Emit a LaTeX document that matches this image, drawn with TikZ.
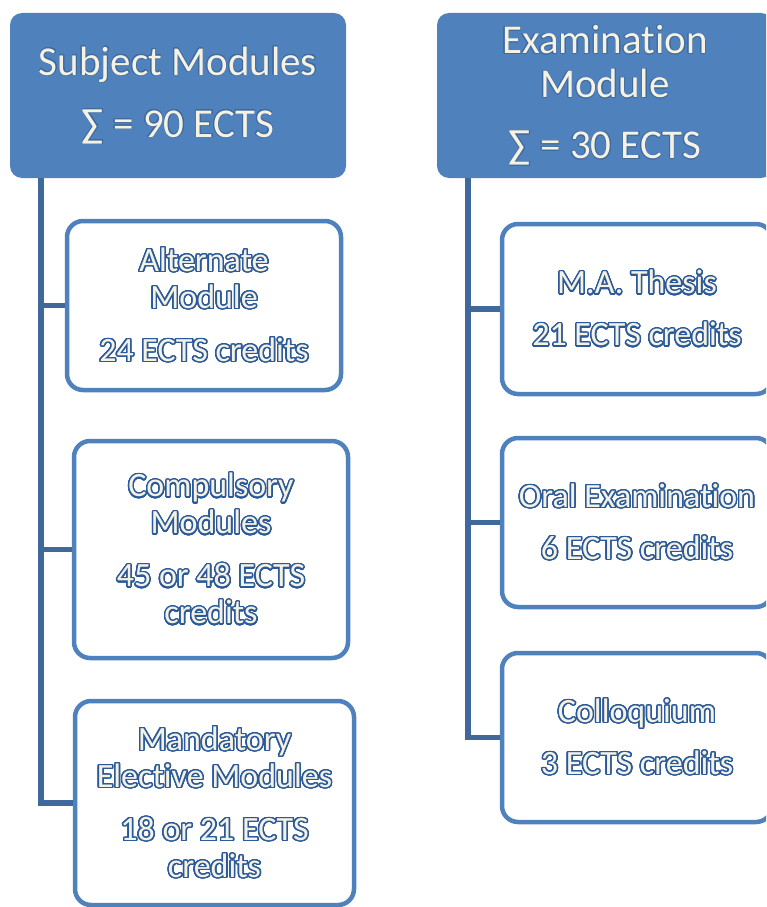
\documentclass[tikz,border=0pt]{standalone}
\usepackage{fontspec}
\setmainfont{Carlito}[Ligatures=NoCommon]
\usepackage{contour}
\contourlength{1.4pt}
\contournumber{32}
\definecolor{hdrfill}{HTML}{4F81BD}
\definecolor{boxline}{HTML}{4F81BD}
\definecolor{connline}{HTML}{41689A}
\definecolor{txtcream}{HTML}{F5F2E4}
\definecolor{txtoutl}{HTML}{2A5A9A}
\definecolor{hdroutl}{HTML}{3F6A9E}
\newcommand{\olt}[1]{\contour{txtoutl}{#1}}
\newcommand{\hlt}[1]{{\contourlength{0.5pt}\contour{hdroutl}{#1}}}
\tikzset{
  hdr/.style={rectangle, rounded corners=12pt, fill=hdrfill, draw=none, align=center,
    text=txtcream, font=\fontsize{41}{44}\selectfont, inner sep=0pt},
  sub/.style={rectangle, rounded corners=16pt, draw=boxline, line width=4.5pt, fill=white,
    align=center, text=txtcream, font=\fontsize{34}{37}\selectfont, inner sep=0pt},
  conn/.style={draw=connline, line width=5.5pt}
}
\begin{document}
\begin{tikzpicture}[x=1pt,y=1pt]
\useasboundingbox (0,0) rectangle (766,-907);
\clip (0,0) rectangle (766,-907);
% headers
\node[hdr, minimum width=336pt, minimum height=165pt] (H1) at (178,-95.5)
  {\hlt{Subject Modules}\\[18pt]\hlt{∑ = 90 ECTS}};
\node[hdr, minimum width=336pt, minimum height=165pt] (H2) at (605,-95.5)
  {\hlt{Examination}\\\hlt{Module}\\[17pt]\hlt{∑ = 30 ECTS}};
% left column
\node[sub, minimum width=274pt, minimum height=169pt] (B1) at (204,-305.5)
  {\olt{Alternate}\\\olt{Module}\\[16pt]\olt{24 ECTS credits}};
\node[sub, minimum width=274pt, minimum height=217pt] (B2) at (211,-549.5)
  {\olt{Compulsory}\\\olt{Modules}\\[16pt]\olt{45 or 48 ECTS}\\\olt{credits}};
\node[sub, minimum width=279pt, minimum height=204pt] (B3) at (214.5,-803)
  {\olt{Mandatory}\\\olt{Elective Modules}\\[16pt]\olt{18 or 21 ECTS}\\\olt{credits}};
% right column
\node[sub, minimum width=270pt, minimum height=170pt] (R1) at (637,-309)
  {\olt{M.A. Thesis}\\[15pt]\olt{21 ECTS credits}};
\node[sub, minimum width=270pt, minimum height=169pt] (R2) at (637,-522.5)
  {\olt{Oral Examination}\\[15pt]\olt{6 ECTS credits}};
\node[sub, minimum width=270pt, minimum height=169pt] (R3) at (637,-737.5)
  {\olt{Colloquium}\\[15pt]\olt{3 ECTS credits}};
% connectors
\coordinate (T1) at (41,-178);
\coordinate (T2) at (468,-178);
\draw[conn] (T1) |- (B3.west);
\draw[conn] (T1 |- B1.west) -- (B1.west);
\draw[conn] (T1 |- B2.west) -- (B2.west);
\draw[conn] (T2) |- (R3.west);
\draw[conn] (T2 |- R1.west) -- (R1.west);
\draw[conn] (T2 |- R2.west) -- (R2.west);
\end{tikzpicture}
\end{document}
